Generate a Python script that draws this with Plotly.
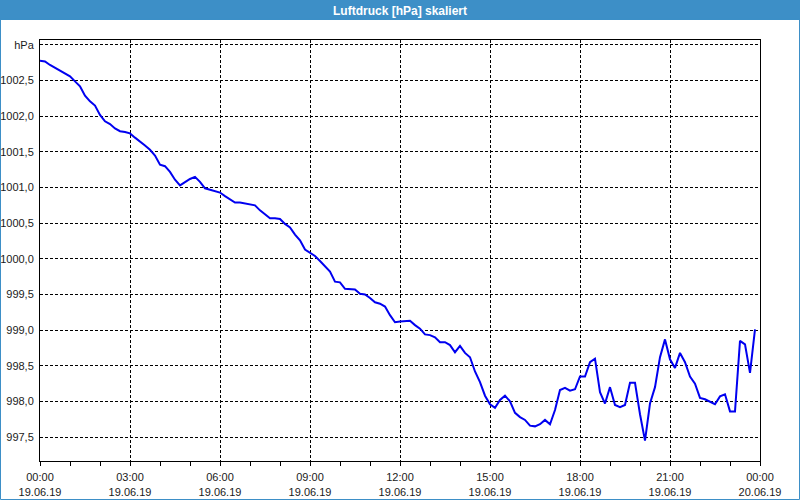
import plotly.graph_objects as go
import pandas as pd

# Luftdruck values (hPa), 10-minute readings from 19.06.19 00:00
pressure = [
    1002.78, 1002.77, 1002.72, 1002.68, 1002.65, 1002.61, 1002.56, 1002.49, 1002.42, 1002.29,
    1002.21, 1002.15, 1002.02, 1001.93, 1001.89, 1001.83, 1001.79, 1001.78, 1001.76, 1001.70,
    1001.65, 1001.59, 1001.53, 1001.45, 1001.32, 1001.30, 1001.22, 1001.11, 1001.03, 1001.08,
    1001.12, 1001.15, 1001.08, 1000.99, 1000.97, 1000.95, 1000.93, 1000.88, 1000.83, 1000.79,
    1000.79, 1000.78, 1000.76, 1000.75, 1000.68, 1000.62, 1000.57, 1000.57, 1000.56, 1000.49,
    1000.44, 1000.34, 1000.26, 1000.13, 1000.09, 1000.04, 999.97, 999.90, 999.82, 999.68,
    999.67, 999.58, 999.58, 999.57, 999.51, 999.50, 999.45, 999.39, 999.37, 999.33,
    999.21, 999.11, 999.12, 999.12, 999.13, 999.07, 999.02, 998.94, 998.93, 998.90,
    998.83, 998.83, 998.79, 998.69, 998.78, 998.68, 998.62, 998.42, 998.27, 998.08,
    997.96, 997.91, 998.02, 998.08, 998.00, 997.84, 997.78, 997.74, 997.66, 997.65,
    997.68, 997.74, 997.68, 997.88, 998.16, 998.19, 998.15, 998.17, 998.35, 998.35,
    998.55, 998.60, 998.13, 997.97, 998.20, 997.95, 997.92, 997.95, 998.26, 998.26,
    997.82, 997.45, 997.97, 998.20, 998.62, 998.87, 998.59, 998.47, 998.68, 998.55,
    998.35, 998.25, 998.05, 998.03, 997.99, 997.96, 998.07, 998.10, 997.86, 997.86,
    998.85, 998.80, 998.40, 999.01,
]
start_time = "2019-06-19 00:00"
end_time = "2019-06-20 00:00"
times = pd.date_range(start_time, periods=len(pressure), freq="10min")

x_tick_vals = ["2019-06-19 00:00", "2019-06-19 03:00", "2019-06-19 06:00", "2019-06-19 09:00",
               "2019-06-19 12:00", "2019-06-19 15:00", "2019-06-19 18:00", "2019-06-19 21:00",
               "2019-06-20 00:00"]
x_tick_text = ["00:00<br>19.06.19", "03:00<br>19.06.19", "06:00<br>19.06.19", "09:00<br>19.06.19",
               "12:00<br>19.06.19", "15:00<br>19.06.19", "18:00<br>19.06.19", "21:00<br>19.06.19",
               "00:00<br>20.06.19"]
y_tick_vals = [997.5, 998.0, 998.5, 999.0, 999.5, 1000.0, 1000.5, 1001.0, 1001.5, 1002.0, 1002.5, 1003.0]
y_tick_text = ["997,5", "998,0", "998,5", "999,0", "999,5", "1000,0", "1000,5", "1001,0",
               "1001,5", "1002,0", "1002,5", "hPa"]
title_text = "Luftdruck [hPa] skaliert"

W, H = 800, 500
ML, MR, MT, MB = 40, 40, 40, 39
PW, PH = W - ML - MR, H - MT - MB
BAR = "#3d8fc7"
FONT = "Liberation Sans"

def px(xp):
    return (xp - ML) / PW

def py(yp):
    return 1 - (yp - MT) / PH

fig = go.Figure()
fig.add_trace(go.Scatter(x=times, y=pressure, mode="lines",
                         line=dict(color="#0000f0", width=2), hoverinfo="skip"))

fig.update_layout(
    width=W, height=H,
    margin=dict(l=ML, r=MR, t=MT, b=MB, pad=0, autoexpand=False),
    paper_bgcolor="white", plot_bgcolor="white",
    showlegend=False,
    font=dict(family=FONT, size=11, color="#1a1a1a"),
    shapes=[
        dict(type="rect", xref="paper", yref="paper", x0=px(0), x1=px(800), y0=py(20), y1=py(0),
             fillcolor=BAR, line=dict(width=0), layer="above"),
        dict(type="rect", xref="paper", yref="paper", x0=px(0.5), x1=px(799.5), y0=py(499.5), y1=py(19),
             fillcolor="rgba(0,0,0,0)", line=dict(color=BAR, width=1), layer="above"),
    ],
    annotations=[
        dict(text="<b>" + title_text + "</b>", xref="paper", yref="paper", x=px(400), y=py(10.5),
             xanchor="center", yanchor="middle", showarrow=False,
             font=dict(family=FONT, size=12, color="white")),
    ],
)

fig.update_xaxes(
    type="date", range=[start_time, end_time], automargin=False,
    tickmode="array", tickvals=x_tick_vals, ticktext=x_tick_text,
    ticks="outside", ticklen=4, tickcolor="black", tickwidth=1, ticklabelstandoff=2,
    minor=dict(dtick=3600000, ticks="outside", ticklen=4, tickcolor="black", showgrid=False),
    showgrid=True, gridcolor="black", gridwidth=1, griddash="3px,2px",
    showline=True, linecolor="black", linewidth=1, mirror=True,
    zeroline=False, tickangle=0, fixedrange=True,
)
fig.update_yaxes(
    range=[997.164, 1003.07], automargin=False,
    tickmode="array", tickvals=y_tick_vals, ticktext=y_tick_text,
    ticks="", ticklabelstandoff=3,
    showgrid=True, gridcolor="black", gridwidth=1, griddash="3px,2px",
    showline=True, linecolor="black", linewidth=1, mirror=True,
    zeroline=False, fixedrange=True,
)

fig.write_html("out.html", config={"displayModeBar": False})
